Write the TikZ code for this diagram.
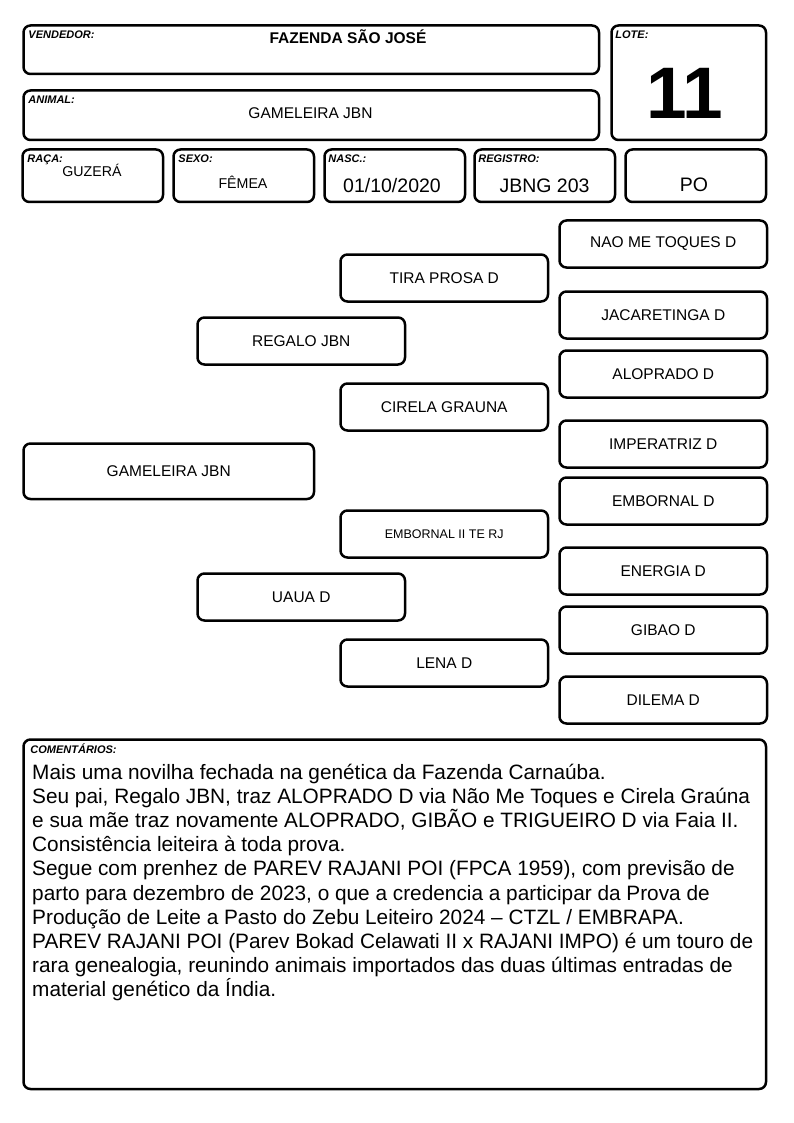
\documentclass[tikz,border=0pt]{standalone}
\usepackage{fontspec}
\setmainfont{Liberation Sans}
\usetikzlibrary{positioning}

\begin{document}
\begin{tikzpicture}[x=1pt,y=-1pt,
        cell/.style={draw, line width=2.5pt, rounded corners=7pt, inner sep=0pt, anchor=north west},
        ped/.style={cell, minimum width=207.5pt, minimum height=47pt, font=\fontsize{15.5}{18}\selectfont},
        tag/.style={anchor=base west, inner sep=0pt, font=\fontsize{11}{13}\selectfont\bfseries\itshape},
        val/.style={anchor=base, inner sep=0pt, font=\fontsize{15.5}{18}\selectfont},
        bigval/.style={anchor=base, inner sep=0pt, font=\fontsize{19.5}{22}\selectfont}]
        \useasboundingbox (0,0) rectangle (794,1123);
        % cabecalho
        \node[cell, minimum width=575.5pt, minimum height=48.5pt] (vend) at (22.25,24.25) {};
        \node[cell, minimum width=154.5pt, minimum height=114.5pt] (lote) at (610.25,24.25) {};
        \node[cell, minimum width=575.5pt, minimum height=49.5pt] (animal) at (22.25,89.25) {};
        \node[cell, minimum width=140.5pt, minimum height=52.5pt] (raca) at (21.25,148.25) {};
        \node[cell, minimum width=140.5pt, minimum height=52.5pt] (sexo) at (172.25,148.25) {};
        \node[cell, minimum width=140.5pt, minimum height=52.5pt] (nasc) at (323.25,148.25) {};
        \node[cell, minimum width=140.5pt, minimum height=52.5pt] (registro) at (473.25,148.25) {};
        \node[cell, minimum width=140.5pt, minimum height=52.5pt] (po) at (624.25,148.25) {};
        \node[tag] (vendT) at ([shift={(6,14.75)}]vend.north west) {VENDEDOR:};
        \node[tag] (loteT) at ([shift={(5,14.75)}]lote.north west) {LOTE:};
        \node[tag] (animalT) at ([shift={(6,14.75)}]animal.north west) {ANIMAL:};
        \node[tag] (racaT) at ([shift={(6,14.75)}]raca.north west) {RAÇA:};
        \node[tag] (sexoT) at ([shift={(6,14.75)}]sexo.north west) {SEXO:};
        \node[tag] (nascT) at ([shift={(5,14.75)}]nasc.north west) {NASC.:};
        \node[tag] (registroT) at ([shift={(5,14.75)}]registro.north west) {REGISTRO:};
        \node[val, font=\fontsize{15.5}{18}\selectfont\bfseries] (vendV) at (348,44) {FAZENDA SÃO JOSÉ};
        \node[anchor=base, inner sep=0pt, font=\fontsize{73}{76}\selectfont\bfseries] (loteV) at (685,119) {11};
        \node[val] (animalV) at (310.5,118.5) {GAMELEIRA JBN};
        \node[val, font=\fontsize{14.2}{17}\selectfont] (racaV) at (92,177) {GUZERÁ};
        \node[val, font=\fontsize{14.2}{17}\selectfont] (sexoV) at (243,189) {FÊMEA};
        \node[bigval] (nascV) at (392,193) {01/10/2020};
        \node[bigval] (registroV) at (544.5,193) {JBNG 203};
        \node[bigval] (poV) at (694,192) {PO};
        % genealogia
        \node[ped, minimum width=290.5pt, minimum height=55.5pt] (animal1) at (22.25,442.25) {GAMELEIRA JBN};
        \node[ped] (pai) at (196.25,316.25) {REGALO JBN};
        \node[ped] (mae) at (196.25,572.25) {UAUA D};
        \node[ped] (avoPP) at (339.25,253.25) {TIRA PROSA D};
        \node[ped] (avoPM) at (339.25,382.25) {CIRELA GRAUNA};
        \node[ped, font=\fontsize{12.5}{15}\selectfont] (avoMP) at (339.25,509.25) {EMBORNAL II TE RJ};
        \node[ped] (avoMM) at (339.25,638.25) {LENA D};
        \node[ped] (bis1) at (558.25,219.25) {NAO ME TOQUES D};
        \node[ped] (bis2) at (558.25,290.25) {JACARETINGA D};
        \node[ped] (bis3) at (558.25,349.25) {ALOPRADO D};
        \node[ped] (bis4) at (558.25,419.25) {IMPERATRIZ D};
        \node[ped] (bis5) at (558.25,476.25) {EMBORNAL D};
        \node[ped] (bis6) at (558.25,546.25) {ENERGIA D};
        \node[ped] (bis7) at (558.25,605.25) {GIBAO D};
        \node[ped] (bis8) at (558.25,675.25) {DILEMA D};
        % comentarios
        \node[cell, minimum width=742.5pt, minimum height=349.5pt] (coment) at (22.25,738.25) {};
        \node[tag] (comentT) at ([shift={(8,14.75)}]coment.north west) {COMENTÁRIOS:};
        \node[anchor=north west, inner sep=0pt, align=left, font=\fontsize{20.8}{24.1}\selectfont] (comentV) at (32,764) {Mais uma novilha fechada na genética da Fazenda Carnaúba.\\
Seu pai, Regalo JBN, traz ALOPRADO D via Não Me Toques e Cirela Graúna\\
e sua mãe traz novamente ALOPRADO, GIBÃO e TRIGUEIRO D via Faia II.\\
Consistência leiteira à toda prova.\\
Segue com prenhez de PAREV RAJANI POI (FPCA 1959), com previsão de\\
parto para dezembro de 2023, o que a credencia a participar da Prova de\\
Produção de Leite a Pasto do Zebu Leiteiro 2024 – CTZL / EMBRAPA.\\
PAREV RAJANI POI (Parev Bokad Celawati II x RAJANI IMPO) é um touro de\\
rara genealogia, reunindo animais importados das duas últimas entradas de\\
material genético da Índia.};
    \end{tikzpicture}
\end{document}
